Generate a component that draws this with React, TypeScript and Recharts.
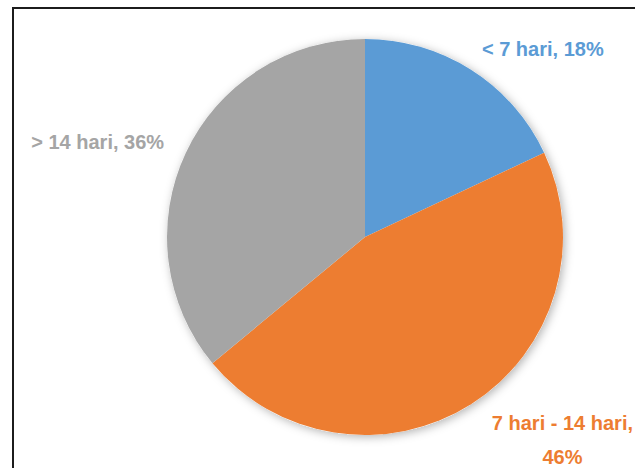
import React from 'react';
import { PieChart, Pie, Cell } from 'recharts';

const categories = ['< 7 hari', '7 hari - 14 hari', '> 14 hari'];
const shares = [18, 46, 36];
const sliceColors = ['#5B9BD5', '#ED7D31', '#A5A5A5'];

const data = categories.map((name, i) => ({ name, value: shares[i] }));
const shadowData = [{ name: 'shadow', value: 1 }];

const FONT = '"Liberation Sans", Arial, sans-serif';
const FONT_SIZE = 20;
const CHAR_W = 9.8; // rough bold width per char, for box placement
const LINE_H = 34;

// Excel style "outside end" label: the text box sits next to the slice,
// anchored on the corner that faces the pie.
const renderLabel = (props: any) => {
  const { cx, cy, midAngle, outerRadius, index } = props;
  const name = categories[index];
  const full = `${name}, ${shares[index]}%`;
  const lines = full.length > 15 ? [`${name},`, `${shares[index]}%`] : [full];

  const rad = (midAngle * Math.PI) / 180;
  const cos = Math.cos(rad);
  const sin = Math.sin(rad);
  const gap = 15;
  const px = cx + (outerRadius + gap) * cos;
  const py = cy - (outerRadius + gap) * sin;

  const w = Math.max(...lines.map((l) => l.length)) * CHAR_W;
  const h = lines.length === 1 ? 20 : LINE_H + 20;
  const boxCx = px + Math.sign(cos) * (w / 2 + (Math.abs(cos) > 0.8 ? 6 : 0));
  const boxCy = py - sin * (h / 2);
  const firstBaseline = boxCy - h / 2 + 17;

  return (
    <text
      key={`lbl-${index}`}
      x={boxCx}
      y={firstBaseline}
      textAnchor="middle"
      fill={sliceColors[index]}
      fontFamily={FONT}
      fontSize={FONT_SIZE}
      fontWeight="bold"
    >
      {lines.map((l, i) => (
        <tspan key={i} x={boxCx} dy={i === 0 ? 0 : LINE_H}>
          {l}
        </tspan>
      ))}
    </text>
  );
};

export default function App() {
  return (
    <div
      style={{
        position: 'fixed',
        left: 0,
        top: 0,
        width: 635,
        height: 468,
        overflow: 'hidden',
        background: '#fff',
      }}
    >
      <div
        style={{
          position: 'absolute',
          left: 12,
          top: 7,
          width: 700,
          height: 600,
          border: '2px solid #1c1c1c',
          boxSizing: 'border-box',
        }}
      />
      <div style={{ position: 'absolute', left: 0, top: 0 }}>
        <PieChart width={635} height={468} margin={{ top: 0, right: 0, bottom: 0, left: 0 }}>
          <defs>
            <filter id="pieShadow" x="-20%" y="-20%" width="140%" height="140%">
              <feDropShadow dx="2" dy="2" stdDeviation="5" floodColor="#000" floodOpacity="0.3" />
            </filter>
          </defs>
          {/* soft shadow under the whole pie */}
          <Pie
            data={shadowData}
            dataKey="value"
            cx={365}
            cy={237}
            outerRadius={198}
            startAngle={90}
            endAngle={-270}
            stroke="none"
            fill="#fff"
            filter="url(#pieShadow)"
            isAnimationActive={false}
          />
          <Pie
            data={data}
            dataKey="value"
            cx={365}
            cy={237}
            outerRadius={198}
            startAngle={90}
            endAngle={-270}
            stroke="none"
            label={renderLabel}
            labelLine={false}
            isAnimationActive={false}
          >
            {data.map((d, i) => (
              <Cell key={d.name} fill={sliceColors[i]} />
            ))}
          </Pie>
        </PieChart>
      </div>
    </div>
  );
}
